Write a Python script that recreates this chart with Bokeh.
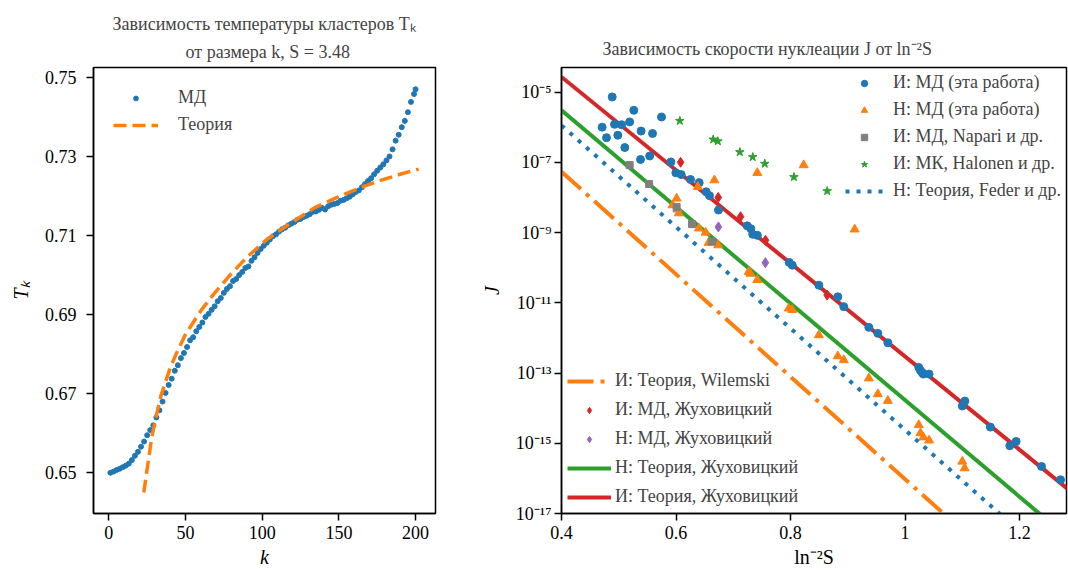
import numpy as np
from bokeh.plotting import figure
from bokeh.layouts import row
from bokeh.models import Range1d, FixedTicker, Legend, LegendItem, Title, CustomJSTickFormatter
from bokeh.embed import file_html
from bokeh.resources import INLINE

FONT = "Liberation Serif"
BLUE, ORANGE, GREEN, RED, PURPLE, GRAY = "#1f77b4", "#ff7f0e", "#2ca02c", "#d62728", "#9467bd", "#7f7f7f"

# ---------------- left panel data: T_k vs k ----------------
k_md = [1, 3, 5, 7, 9, 11, 13, 15, 17, 19, 21, 23, 25, 27, 29, 31, 33, 35, 37, 39,
        41, 43, 45, 47, 49, 51, 53, 55, 57, 59, 61, 63, 65, 67, 69, 71, 73, 75, 77, 79,
        81, 83, 85, 87, 89, 91, 93, 95, 97, 99, 101, 103, 105, 107, 109, 111, 113, 115, 117, 119,
        121, 123, 125, 127, 129, 131, 133, 135, 137, 139, 141, 143, 145, 147, 149, 151, 153, 155, 157, 159,
        161, 163, 165, 167, 169, 171, 173, 175, 177, 179, 181, 183, 185, 187, 189, 191, 193, 195, 197, 199, 200]
T_md = [0.6500, 0.6503, 0.6507, 0.6510, 0.6514, 0.6518, 0.6523, 0.6532, 0.6543, 0.6553,
        0.6566, 0.6579, 0.6595, 0.6608, 0.6620, 0.6640, 0.6658, 0.6680, 0.6702, 0.6722,
        0.6738, 0.6758, 0.6772, 0.6790, 0.6803, 0.6818, 0.6835, 0.6843, 0.6858, 0.6869,
        0.6880, 0.6894, 0.6902, 0.6912, 0.6921, 0.6934, 0.6942, 0.6955, 0.6965, 0.6972,
        0.6985, 0.6990, 0.7000, 0.7008, 0.7018, 0.7022, 0.7036, 0.7045, 0.7056, 0.7066,
        0.7074, 0.7082, 0.7090, 0.7098, 0.7103, 0.7110, 0.7116, 0.7120, 0.7126, 0.7130,
        0.7134, 0.7140, 0.7142, 0.7147, 0.7150, 0.7154, 0.7160, 0.7161, 0.7165, 0.7170,
        0.7166, 0.7174, 0.7178, 0.7180, 0.7182, 0.7188, 0.7190, 0.7194, 0.7198, 0.7204,
        0.7210, 0.7214, 0.7222, 0.7230, 0.7238, 0.7245, 0.7255, 0.7264, 0.7272, 0.7280,
        0.7290, 0.7300, 0.7318, 0.7340, 0.7355, 0.7374, 0.7390, 0.7412, 0.7438, 0.7458, 0.7470]
k_th = [22.8, 25, 28, 31, 34, 37, 40, 45, 50, 55, 60, 68, 79, 90, 103, 116, 134, 152, 162, 176, 190, 202]
T_th = [0.6450, 0.6510, 0.6590, 0.6645, 0.6695, 0.6730, 0.6765, 0.6810, 0.6850, 0.6880, 0.6910,
        0.6950, 0.7000, 0.7045, 0.7090, 0.7125, 0.7170, 0.7202, 0.7218, 0.7238, 0.7255, 0.7268]
k_ticks = [0, 50, 100, 150, 200]
T_ticks = [0.65, 0.67, 0.69, 0.71, 0.73, 0.75]

# ---------------- right panel data: J vs ln^-2 S (log10 J) ----------------
x_md_i = [0.4886, 0.5263, 0.5747, 0.471, 0.4926, 0.505, 0.519, 0.4786, 0.4984, 0.539, 0.559, 0.5106,
          0.554, 0.538, 0.591, 0.5997, 0.609, 0.6253, 0.6405, 0.6527, 0.6585, 0.6742, 0.7243, 0.7307,
          0.734, 0.742, 0.7977, 0.803, 0.8495, 0.8826, 0.893, 0.9368, 0.9525, 0.97, 1.024, 1.027,
          1.030, 1.032, 1.042, 1.1045, 1.100, 1.149, 1.183, 1.194, 1.2384, 1.2716]
lgJ_md_i = [-5.14, -5.52, -5.71, -6.00, -5.92, -5.93, -5.85, -6.30, -6.23, -6.11, -6.18, -6.58,
            -6.82, -6.92, -6.99, -7.30, -7.35, -7.49, -7.58, -7.84, -7.95, -8.36, -8.81, -8.89,
            -9.05, -9.08, -9.85, -9.93, -10.50, -10.83, -11.11, -11.70, -11.87, -12.14, -12.84, -12.93,
            -12.99, -13.03, -13.03, -13.80, -13.94, -14.54, -15.07, -14.95, -15.66, -16.04]
x_md_n = [0.667, 0.742, 0.823, 0.912, 0.638, 0.601, 0.594, 0.6025, 0.605, 0.640, 0.6517, 0.657, 0.6735,
          0.727, 0.730, 0.742, 0.797, 0.803, 0.8495, 0.8826, 0.893, 0.9368, 0.9525, 0.97, 1.024, 1.027,
          1.032, 1.042, 1.100, 1.104]
lgJ_md_n = [-7.51, -7.30, -7.08, -8.91, -7.70, -8.03, -8.22, -8.34, -8.45, -8.88, -9.00, -9.29, -9.36,
            -10.12, -10.17, -10.35, -11.16, -11.20, -11.92, -12.52, -12.63, -13.15, -13.60, -13.79, -14.48,
            -14.71, -14.83, -14.92, -15.52, -15.71]
x_napari = [0.519, 0.553, 0.601, 0.628, 0.663]
lgJ_napari = [-7.08, -7.62, -8.27, -8.76, -9.26]
x_halonen = [0.6067, 0.665, 0.673, 0.7115, 0.734, 0.755, 0.806, 0.864]
lgJ_halonen = [-5.82, -6.35, -6.40, -6.71, -6.85, -7.04, -7.42, -7.82]
x_zh_i = [0.608, 0.6737, 0.7127, 0.7563, 0.864]
lgJ_zh_i = [-7.00, -8.00, -8.55, -9.22, -10.78]
x_zh_n = [0.674, 0.756]
lgJ_zh_n = [-8.84, -9.86]
# theory lines (end points)
x_feder = [0.40, 1.20]
lgJ_feder = [-5.95, -17.51]
x_wilemski = [0.40, 1.10]
lgJ_wilemski = [-7.27, -17.48]
x_zh_th_n = [0.40, 1.30]
lgJ_zh_th_n = [-5.52, -17.90]
x_zh_th_i = [0.40, 1.30]
lgJ_zh_th_i = [-4.57, -16.51]
x_ticks = [0.4, 0.6, 0.8, 1.0, 1.2]
J_tick_exp = [-5, -7, -9, -11, -13, -15, -17]


def J(lg):
    return [10.0 ** v for v in lg]


def style_axes(p):
    p.xgrid.visible = False
    p.ygrid.visible = False
    p.outline_line_color = "black"
    p.outline_line_width = 1.5
    p.outline_line_alpha = 1.0
    p.background_fill_color = "white"
    p.border_fill_color = "white"
    for ax in (p.xaxis[0], p.yaxis[0]):
        ax.axis_line_width = 1.5
        ax.axis_line_color = "black"
        ax.major_tick_in = 0
        ax.major_tick_out = 7
        ax.major_tick_line_width = 1.5
        ax.major_tick_line_color = "black"
        ax.minor_tick_in = 0
        ax.minor_tick_out = 0
        ax.major_label_text_font = FONT
        ax.major_label_text_font_size = "18px"
        ax.major_label_text_color = "black"
        ax.axis_label_text_font = FONT
        ax.axis_label_text_font_size = "20px"
        ax.axis_label_text_font_style = "italic"
        ax.axis_label_text_color = "black"


# ---------------- left figure ----------------
p1 = figure(width=445, height=570, output_backend="svg", toolbar_location=None,
            x_range=Range1d(-10, 213), y_range=Range1d(0.6397, 0.7525),
            min_border_left=93, min_border_right=10, min_border_top=65, min_border_bottom=56)
style_axes(p1)
p1.xaxis.ticker = FixedTicker(ticks=k_ticks)
p1.yaxis.ticker = FixedTicker(ticks=T_ticks)
p1.xaxis.axis_label = "k"
p1.yaxis.axis_label = "Tₖ"
p1.xaxis.major_label_standoff = 5
p1.yaxis.major_label_standoff = 10
p1.xaxis.axis_label_standoff = 4
p1.yaxis.axis_label_standoff = 10

p1.title.text = "Зависимость температуры кластеров Tₖ"
p1.title.text_font = FONT
p1.title.text_font_size = "18px"
p1.title.text_font_style = "normal"
p1.title.align = "left"
p1.title.offset = 19
p1.title.standoff = 2
p1.add_layout(Title(text="от размера k, S = 3.48", text_font=FONT, text_font_size="18px",
                    text_font_style="normal", align="left", offset=92, standoff=11), "above")

r_md = p1.scatter(k_md, T_md, size=5, color=BLUE)
r_th = p1.line(k_th, T_th, line_color=ORANGE, line_width=3.5, line_dash="13 6")
leg1 = Legend(items=[LegendItem(label="МД", renderers=[r_md]),
                     LegendItem(label="Теория", renderers=[r_th])],
              location="top_left", margin=0, padding=20, spacing=6,
              glyph_width=45, glyph_height=12, label_height=20, label_standoff=20,
              label_text_font=FONT, label_text_font_size="18px",
              background_fill_alpha=0, border_line_alpha=0)
p1.add_layout(leg1)

# ---------------- right figure ----------------
p2 = figure(width=623, height=570, output_backend="svg", toolbar_location=None,
            y_axis_type="log",
            x_range=Range1d(0.4, 1.282), y_range=Range1d(1e-17, 5e-5),
            min_border_left=116, min_border_right=2, min_border_top=67, min_border_bottom=57)
style_axes(p2)
p2.xaxis.ticker = FixedTicker(ticks=x_ticks)
p2.yaxis.ticker = FixedTicker(ticks=[10.0 ** e for e in J_tick_exp], minor_ticks=[])
p2.yaxis.formatter = CustomJSTickFormatter(code="""
const sup = {"-": "\\u207b", "0": "\\u2070", "1": "\\u00b9", "2": "\\u00b2", "3": "\\u00b3",
             "4": "\\u2074", "5": "\\u2075", "6": "\\u2076", "7": "\\u2077", "8": "\\u2078", "9": "\\u2079"};
const e = Math.round(Math.log10(tick));
return "10" + String(e).split("").map(c => sup[c]).join("");
""")
p2.xaxis.axis_label = "ln⁻²S"
p2.xaxis.axis_label_text_font_style = "normal"
p2.yaxis.axis_label = "J"
p2.xaxis.major_label_standoff = 5
p2.yaxis.major_label_standoff = 3
p2.xaxis.axis_label_standoff = 4
p2.yaxis.axis_label_standoff = 10

p2.title.text = "Зависимость скорости нуклеации J от ln⁻²S"
p2.title.text_font = FONT
p2.title.text_font_size = "18px"
p2.title.text_font_style = "normal"
p2.title.align = "left"
p2.title.offset = 41
p2.title.standoff = 18

r_feder = p2.line(x_feder, J(lgJ_feder), line_color=BLUE, line_width=4, line_dash="4 7")
r_wil = p2.line(x_wilemski, J(lgJ_wilemski), line_color=ORANGE, line_width=4, line_dash="26 7 4 7")
r_thn = p2.line(x_zh_th_n, J(lgJ_zh_th_n), line_color=GREEN, line_width=4)
r_thi = p2.line(x_zh_th_i, J(lgJ_zh_th_i), line_color=RED, line_width=4)

r_mdi = p2.scatter(x_md_i, J(lgJ_md_i), marker="circle", size=8, color=BLUE)
r_mdn = p2.scatter(x_md_n, J(lgJ_md_n), marker="triangle", size=9, color=ORANGE)
r_nap = p2.scatter(x_napari, J(lgJ_napari), marker="square", size=7, color=GRAY)
r_hal = p2.scatter(x_halonen, J(lgJ_halonen), marker="star", size=9, color=GREEN)
r_zhi = p2.scatter(x_zh_i, J(lgJ_zh_i), marker="diamond", size=10, color=RED)
r_zhn = p2.scatter(x_zh_n, J(lgJ_zh_n), marker="diamond", size=10, color=PURPLE)

leg2 = Legend(items=[LegendItem(label="И: МД (эта работа)", renderers=[r_mdi]),
                     LegendItem(label="Н: МД (эта работа)", renderers=[r_mdn]),
                     LegendItem(label="И: МД, Napari и др.", renderers=[r_nap]),
                     LegendItem(label="И: МК, Halonen и др.", renderers=[r_hal]),
                     LegendItem(label="Н: Теория, Feder и др.", renderers=[r_feder])],
              location="top_right", margin=0, padding=5, spacing=6,
              glyph_width=38, glyph_height=16, label_height=20, label_standoff=10,
              label_text_font=FONT, label_text_font_size="18px",
              background_fill_alpha=0, border_line_alpha=0)
leg3 = Legend(items=[LegendItem(label="И: Теория, Wilemski", renderers=[r_wil]),
                     LegendItem(label="И: МД, Жуховицкий", renderers=[r_zhi]),
                     LegendItem(label="Н: МД, Жуховицкий", renderers=[r_zhn]),
                     LegendItem(label="Н: Теория, Жуховицкий", renderers=[r_thn]),
                     LegendItem(label="И: Теория, Жуховицкий", renderers=[r_thi])],
              location="bottom_left", margin=0, padding=6, spacing=8,
              glyph_width=44, glyph_height=16, label_height=20, label_standoff=4,
              label_text_font=FONT, label_text_font_size="18px",
              background_fill_alpha=0, border_line_alpha=0)
p2.add_layout(leg2)
p2.add_layout(leg3)

layout = row(p1, p2)
open("out.html", "w").write(file_html(layout, INLINE))
